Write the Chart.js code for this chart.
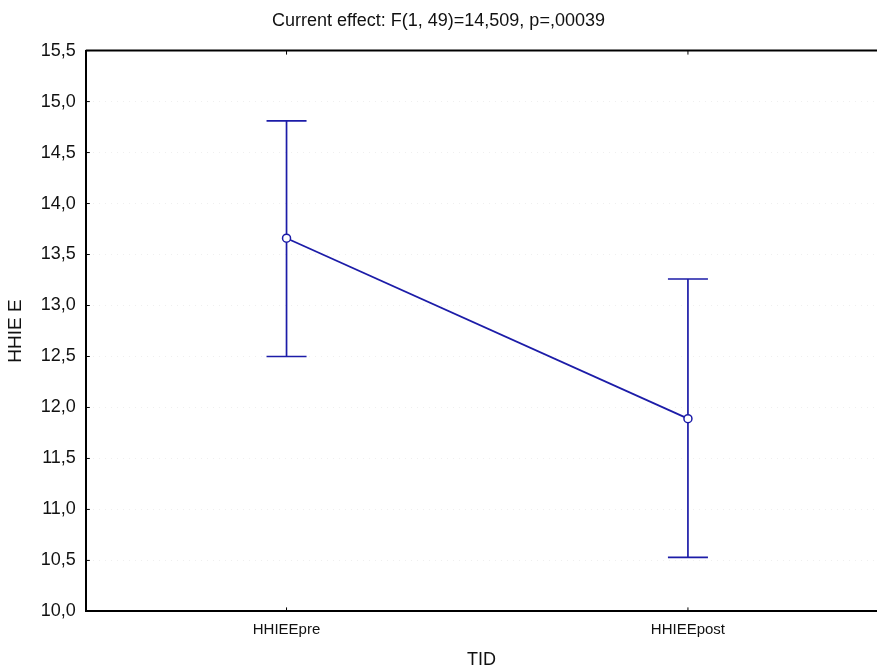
<!DOCTYPE html>
<html>
<head>
<meta charset="utf-8">
<script src="https://cdn.jsdelivr.net/npm/chart.js@4.4.1/dist/chart.umd.min.js"></script>
<style>
  html, body { margin: 0; padding: 0; background: #fff; overflow: hidden; }
  #wrap { width: 877px; height: 671px; }
</style>
</head>
<body>
<div id="wrap"><canvas id="chart"></canvas></div>
<script>
const categories = ["HHIEEpre", "HHIEEpost"];   // levels of TID
const means = [13.66, 11.89];                  // HHIE E means
const upper = [14.81, 13.26];                  // upper end of error bar
const lower = [12.50, 10.53];                  // lower end of error bar
const yTicks = [10.0, 10.5, 11.0, 11.5, 12.0, 12.5, 13.0, 13.5, 14.0, 14.5, 15.0, 15.5];

const lineColor = "#1c1ca8";
const fontFamily = "'Liberation Sans', Arial, sans-serif";

// error bars, frame top line and inner tick marks
const extras = {
  id: "extras",
  afterDatasetsDraw(chart) {
    const ctx = chart.ctx;
    const xs = chart.scales.x, ys = chart.scales.y;
    const area = chart.chartArea;
    ctx.save();

    // top border
    ctx.strokeStyle = "#000";
    ctx.lineWidth = 2;
    ctx.beginPath();
    ctx.moveTo(area.left, area.top);
    ctx.lineTo(area.right, area.top);
    ctx.stroke();

    // small ticks pointing inside
    ctx.lineWidth = 1;
    ctx.beginPath();
    yTicks.forEach(v => {
      const y = ys.getPixelForValue(v);
      ctx.moveTo(area.left, y);
      ctx.lineTo(area.left + 4, y);
    });
    categories.forEach((c, i) => {
      const x = xs.getPixelForValue(i);
      ctx.moveTo(x, area.bottom);
      ctx.lineTo(x, area.bottom - 4);
      ctx.moveTo(x, area.top);
      ctx.lineTo(x, area.top + 4);
    });
    ctx.stroke();

    // error bars
    ctx.strokeStyle = lineColor;
    ctx.lineWidth = 1.7;
    means.forEach((m, i) => {
      const x = xs.getPixelForValue(i);
      const yu = ys.getPixelForValue(upper[i]);
      const yl = ys.getPixelForValue(lower[i]);
      const ym = ys.getPixelForValue(m);
      ctx.beginPath();
      ctx.moveTo(x, yu); ctx.lineTo(x, ym - 4);
      ctx.moveTo(x, ym + 4); ctx.lineTo(x, yl);
      ctx.moveTo(x - 20, yu); ctx.lineTo(x + 20, yu);
      ctx.moveTo(x - 20, yl); ctx.lineTo(x + 20, yl);
      ctx.stroke();
    });
    ctx.restore();
  }
};

new Chart(document.getElementById("chart"), {
  type: "line",
  data: {
    datasets: [{
      data: means.map((m, i) => ({ x: i, y: m })),
      borderColor: lineColor,
      borderWidth: 1.8,
      pointRadius: 4,
      pointBorderWidth: 1.5,
      pointBackgroundColor: "#fff",
      pointBorderColor: lineColor,
      tension: 0
    }]
  },
  options: {
    responsive: true,
    maintainAspectRatio: false,
    animation: false,
    layout: { autoPadding: false, padding: { top: 10, right: 0, left: 0, bottom: 0 } },
    plugins: {
      legend: { display: false },
      tooltip: { enabled: false },
      title: {
        display: true,
        text: "Current effect: F(1, 49)=14,509, p=,00039",
        color: "#111",
        font: { family: fontFamily, size: 18, weight: "normal" },
        padding: { top: 0, bottom: 19 }
      }
    },
    scales: {
      x: {
        type: "linear",
        min: -0.5,
        max: 1.471,
        afterBuildTicks: (axis) => { axis.ticks = categories.map((c, i) => ({ value: i })); },
        grid: { display: false, drawTicks: false },
        border: { color: "#000", width: 2 },
        ticks: {
          callback: (v) => categories[v],
          color: "#111",
          font: { family: fontFamily, size: 15 },
          padding: 9,
          maxRotation: 0
        },
        title: {
          display: true,
          text: "TID",
          color: "#111",
          font: { family: fontFamily, size: 18 },
          padding: { top: 2, bottom: 0 }
        }
      },
      y: {
        min: 10,
        max: 15.5,
        afterBuildTicks: (axis) => { axis.ticks = yTicks.map(v => ({ value: v })); },
        grid: { color: "#efefef", drawTicks: false },
        border: { color: "#000", width: 2, dash: [1, 5] },
        ticks: {
          callback: (v) => v.toFixed(1).replace(".", ","),
          color: "#111",
          font: { family: fontFamily, size: 18 },
          padding: 10
        },
        title: {
          display: true,
          text: "HHIE E",
          color: "#111",
          font: { family: fontFamily, size: 19 },
          padding: { top: 4, bottom: 4 }
        }
      }
    }
  },
  plugins: [extras]
});
</script>
</body>
</html>
